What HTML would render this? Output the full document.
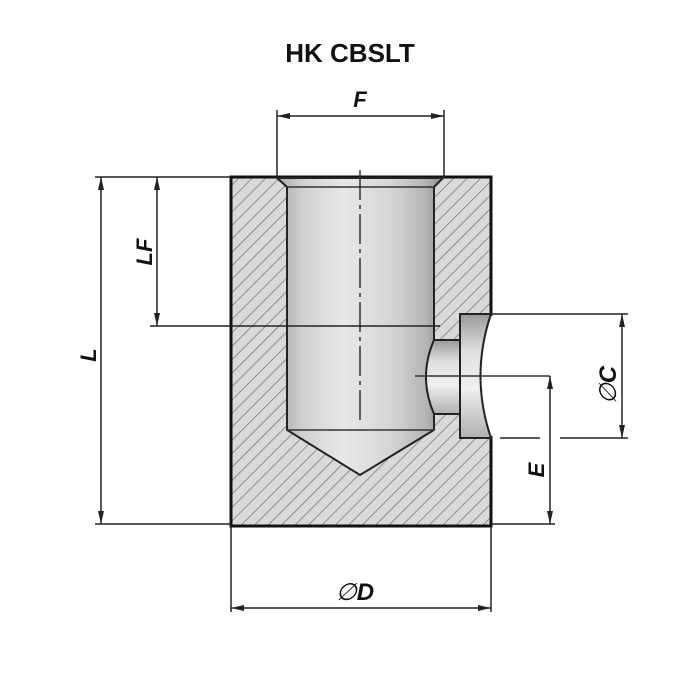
<!DOCTYPE html>
<html><head><meta charset="utf-8"><style>
html,body{margin:0;padding:0;background:#fff;}
svg{display:block}
text{font-family:"Liberation Sans",sans-serif;font-weight:bold;font-style:italic;fill:#111}
</style></head><body>
<svg width="700" height="700" viewBox="0 0 700 700" xmlns="http://www.w3.org/2000/svg">
<defs>
<pattern id="h" patternUnits="userSpaceOnUse" width="9.5" height="9.5" patternTransform="rotate(45)">
<rect width="9.5" height="9.5" fill="#d9d9d9"/>
<line x1="0" y1="0" x2="0" y2="9.5" stroke="#666" stroke-width="1.3"/>
</pattern>
<linearGradient id="g" x1="0" x2="1" y1="0" y2="0">
<stop offset="0" stop-color="#a8a8a8"/><stop offset="0.15" stop-color="#d0d0d0"/><stop offset="0.4" stop-color="#e8e8e8"/><stop offset="0.7" stop-color="#d4d4d4"/><stop offset="0.9" stop-color="#b4b4b4"/><stop offset="1" stop-color="#8c8c8c"/>
</linearGradient>
<linearGradient id="gv" x1="0" x2="0" y1="0" y2="1">
<stop offset="0" stop-color="#9a9a9a"/><stop offset="0.3" stop-color="#e0e0e0"/><stop offset="0.6" stop-color="#f0f0f0"/><stop offset="1" stop-color="#b0b0b0"/>
</linearGradient>
</defs>
<text x="350" y="62" text-anchor="middle" font-size="26" style="font-style:normal">HK CBSLT</text>
<rect x="231" y="177" width="260" height="349" fill="url(#h)" stroke="#111" stroke-width="3"/>
<polygon points="277,178 443,178 434,187 434,430 360,475 287,430 287,187" fill="url(#g)" stroke="#222" stroke-width="2"/>
<line x1="287" y1="187" x2="434" y2="187" stroke="#333" stroke-width="1.5"/>
<line x1="287" y1="430" x2="434" y2="430" stroke="#333" stroke-width="1.5"/>
<path d="M434,340 L460,340 L460,414 L434,414 Q418,377 434,340 Z" fill="url(#gv)" stroke="#222" stroke-width="2"/>
<rect x="480" y="316" width="15" height="120" fill="#fff"/>
<path d="M460,314 L491,314 Q470,376 491,438 L460,438 Z" fill="url(#gv)" stroke="#222" stroke-width="2"/>
<line x1="360" y1="170" x2="360" y2="420" stroke="#333" stroke-width="1.5" stroke-dasharray="30,5,4,5"/>
<line x1="415" y1="376" x2="550" y2="376" stroke="#333" stroke-width="1.5"/>
<g stroke="#222" stroke-width="1.5" fill="none">
<line x1="277" y1="110" x2="277" y2="177"/><line x1="444" y1="110" x2="444" y2="177"/>
<line x1="277" y1="116" x2="444" y2="116"/>
<line x1="95" y1="177" x2="231" y2="177"/>
<line x1="95" y1="524" x2="231" y2="524"/>
<line x1="101" y1="177" x2="101" y2="524"/>
<line x1="150" y1="326" x2="440" y2="326"/>
<line x1="157" y1="177" x2="157" y2="326"/>
<line x1="231" y1="526" x2="231" y2="612"/><line x1="491" y1="526" x2="491" y2="612"/>
<line x1="231" y1="608" x2="491" y2="608"/>
<line x1="491" y1="314" x2="628" y2="314"/>
<line x1="500" y1="438" x2="540" y2="438"/><line x1="560" y1="438" x2="628" y2="438"/>
<line x1="622" y1="314" x2="622" y2="438"/>
<line x1="491" y1="524" x2="555" y2="524"/>
<line x1="550" y1="376" x2="550" y2="524"/>
</g>
<g fill="#222">
<polygon points="277,116 290,113 290,119"/><polygon points="444,116 431,113 431,119"/>
<polygon points="101,177 98,190 104,190"/><polygon points="101,524 98,511 104,511"/>
<polygon points="157,177 154,190 160,190"/><polygon points="157,326 154,313 160,313"/>
<polygon points="231,608 244,605 244,611"/><polygon points="491,608 478,605 478,611"/>
<polygon points="622,314 619,327 625,327"/><polygon points="622,438 619,425 625,425"/>
<polygon points="550,376 547,389 553,389"/><polygon points="550,524 547,511 553,511"/>
</g>
<text x="360" y="107" text-anchor="middle" font-size="22">F</text>
<text x="355" y="600" text-anchor="middle" font-size="24" style="font-weight:normal">∅<tspan style="font-weight:bold">D</tspan></text>
<text transform="translate(152,252) rotate(-90)" text-anchor="middle" font-size="22">LF</text>
<text transform="translate(96,355) rotate(-90)" text-anchor="middle" font-size="22">L</text>
<text transform="translate(616,385) rotate(-90)" text-anchor="middle" font-size="24" style="font-weight:normal">∅<tspan style="font-weight:bold">C</tspan></text>
<text transform="translate(544,470) rotate(-90)" text-anchor="middle" font-size="22">E</text>
</svg>
</body></html>
